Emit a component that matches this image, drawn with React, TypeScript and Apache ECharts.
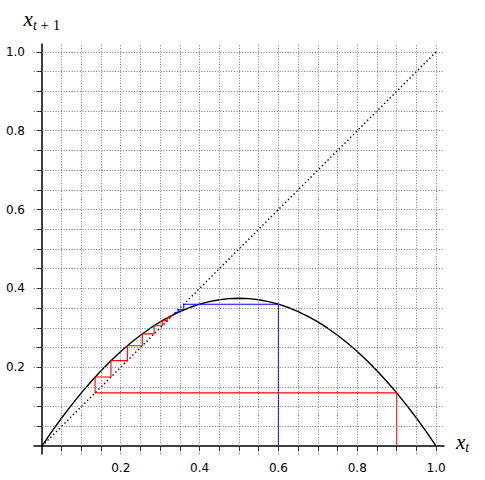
import React, { useEffect, useRef } from "react";
import * as echarts from "echarts";

// Logistic-map curve (x, x_{t+1})
const curveX = [
  0, 0.025, 0.05, 0.075, 0.1, 0.125, 0.15, 0.175, 0.2, 0.225, 0.25, 0.275, 0.3, 0.325, 0.35, 0.375, 0.4,
  0.425, 0.45, 0.475, 0.5, 0.525, 0.55, 0.575, 0.6, 0.625, 0.65, 0.675, 0.7, 0.725, 0.75, 0.775, 0.8,
  0.825, 0.85, 0.875, 0.9, 0.925, 0.95, 0.975, 1,
];
const curveY = [
  0, 0.0366, 0.0713, 0.1041, 0.135, 0.1641, 0.1913, 0.2166, 0.24, 0.2616, 0.2813, 0.2991, 0.315, 0.3291,
  0.3413, 0.3516, 0.36, 0.3666, 0.3713, 0.3741, 0.375, 0.3741, 0.3713, 0.3666, 0.36, 0.3516, 0.3413,
  0.3291, 0.315, 0.2991, 0.2813, 0.2616, 0.24, 0.2166, 0.1913, 0.1641, 0.135, 0.1041, 0.0713, 0.0366, 0,
];

// Cobweb iterates
const redIterates = [0.9, 0.135, 0.1752, 0.2168, 0.2547, 0.2847, 0.3055, 0.3183, 0.3255, 0.3293, 0.3313];
const blueIterates = [0.6, 0.36, 0.3456, 0.3392, 0.3362, 0.3348, 0.334, 0.3337];

// Diagonal x_{t+1} = x_t
const diagonal = [
  [0, 0],
  [1, 1],
];

// Ticks and labels
const tickValues = [
  0.05, 0.1, 0.15, 0.2, 0.25, 0.3, 0.35, 0.4, 0.45, 0.5, 0.55, 0.6, 0.65, 0.7, 0.75, 0.8, 0.85, 0.9, 0.95, 1.0,
];
const labelValues = [0.2, 0.4, 0.6, 0.8, 1.0];

function cobweb(it: number[]): number[][] {
  const pts: number[][] = [[it[0], 0]];
  for (let i = 0; i < it.length - 1; i++) {
    pts.push([it[i], it[i + 1]]);
    pts.push([it[i + 1], it[i + 1]]);
  }
  return pts;
}

export default function App() {
  const ref = useRef<HTMLDivElement>(null);
  useEffect(() => {
    document.body.style.margin = "0";
    const chart = echarts.init(ref.current!, null, { renderer: "svg" });
    const labelStyle = {
      customValues: labelValues,
      formatter: (v: number) => v.toFixed(1),
      fontFamily: "DejaVu Sans",
      fontSize: 12,
      color: "#000",
    };
    const italic = { fontFamily: "Liberation Serif", fontStyle: "italic", color: "#000" };
    chart.setOption({
      animation: false,
      grid: { left: 34, right: 41, top: 44, bottom: 26, outerBoundsMode: "none" },
      xAxis: {
        type: "value",
        min: -0.02,
        max: 1.02,
        axisLine: { onZero: true, lineStyle: { color: "#000", width: 1.5 } },
        axisTick: { show: true, customValues: tickValues, length: 5, lineStyle: { color: "#000" } },
        axisLabel: { ...labelStyle, margin: 8 },
        splitLine: { show: false },
        name: "{x|x}{s|t}",
        nameLocation: "end",
        nameGap: 12,
        nameTextStyle: {
          rich: {
            x: { ...italic, fontSize: 21, lineHeight: 26, verticalAlign: "middle" },
            s: { ...italic, fontSize: 14, verticalAlign: "bottom" },
          },
          padding: [0, 0, 9, 0],
        },
      },
      yAxis: {
        type: "value",
        min: -0.02,
        max: 1.02,
        axisLine: { onZero: true, lineStyle: { color: "#000", width: 1.5 } },
        axisTick: { show: true, customValues: tickValues, length: 5, lineStyle: { color: "#000" } },
        axisLabel: { ...labelStyle, margin: 9 },
        splitLine: { show: false },
        name: "{x|x}{s|t}{p| + 1}",
        nameLocation: "end",
        nameGap: 12,
        nameTextStyle: {
          rich: {
            x: { ...italic, fontSize: 21, lineHeight: 26, verticalAlign: "middle" },
            s: { ...italic, fontSize: 14, verticalAlign: "bottom" },
            p: { fontFamily: "Liberation Serif", fontSize: 15, color: "#000", verticalAlign: "bottom" },
          },
        },
      },
      series: [
        {
          type: "line",
          data: [],
          silent: true,
          markLine: {
            silent: true,
            symbol: ["none", "none"],
            label: { show: false },
            emphasis: { disabled: true },
            lineStyle: { color: "#777", type: [1, 1.7], width: 1 },
            data: [...tickValues.map((v) => ({ xAxis: v })), ...tickValues.map((v) => ({ yAxis: v }))],
          },
        },
        {
          type: "line",
          data: diagonal,
          showSymbol: false,
          silent: true,
          lineStyle: { color: "#000", width: 1.4, type: [1.4, 2.6] },
        },
        {
          type: "line",
          data: curveX.map((x, i) => [x, curveY[i]]),
          showSymbol: false,
          silent: true,
          lineStyle: { color: "#000", width: 1.4 },
        },
        {
          type: "line",
          data: cobweb(redIterates),
          showSymbol: false,
          silent: true,
          lineStyle: { color: "#ff0000", width: 1.1 },
        },
        {
          type: "line",
          data: cobweb(blueIterates),
          showSymbol: false,
          silent: true,
          lineStyle: { color: "#0000ff", width: 1.1 },
        },
      ],
    });
    return () => chart.dispose();
  }, []);
  return <div ref={ref} style={{ width: 485, height: 480 }} />;
}
